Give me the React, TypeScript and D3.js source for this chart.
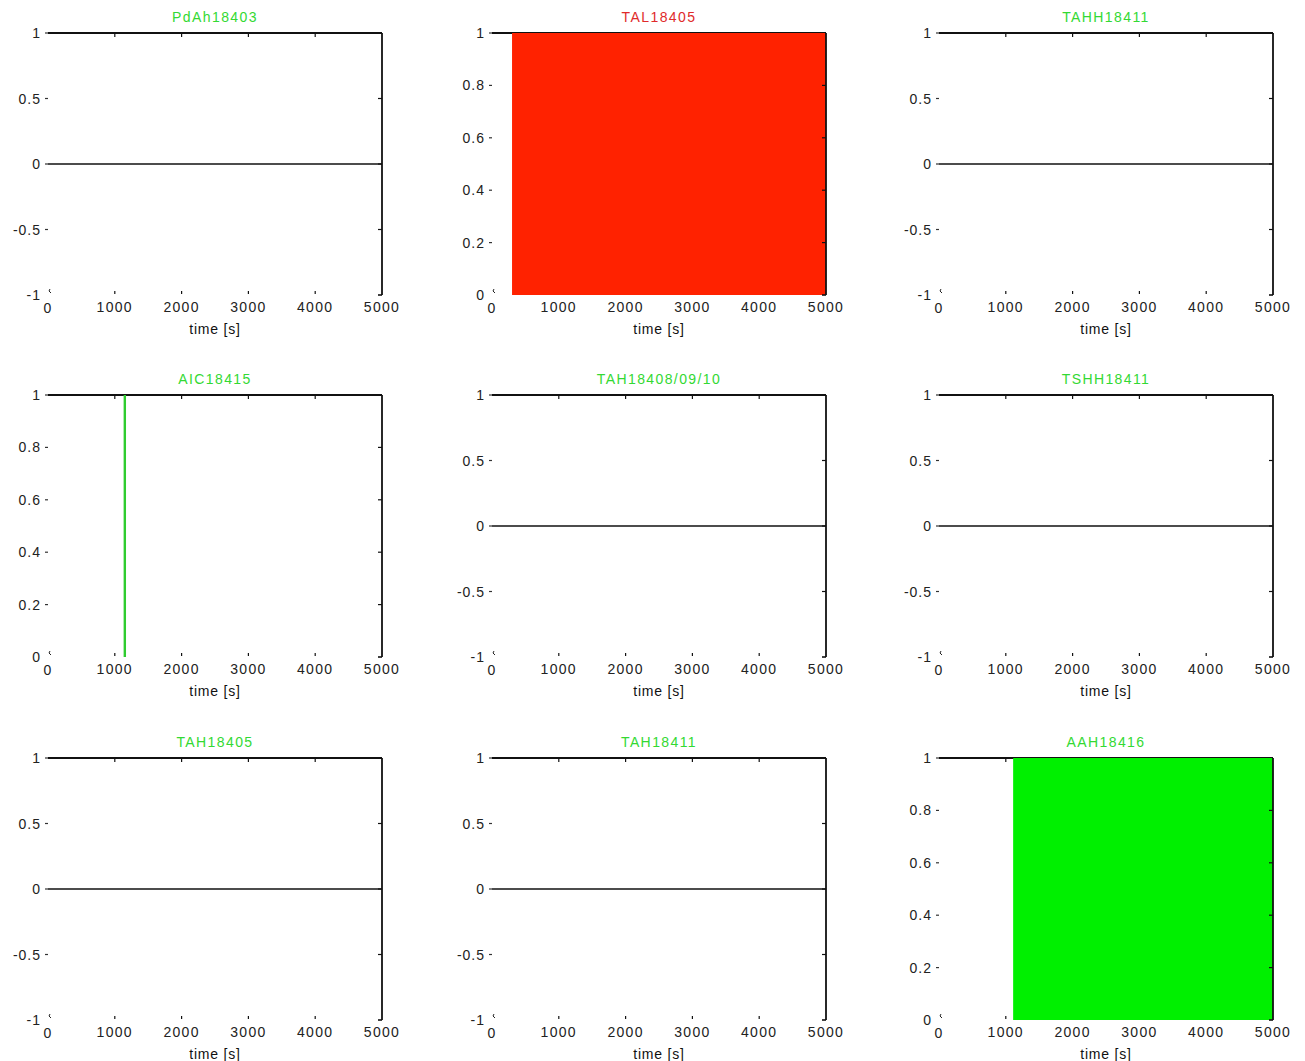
import * as d3 from 'd3'

// grid of the 9 alarm panels, row by row
const TITLES = [
  'PdAh18403', 'TAL18405', 'TAHH18411',
  'AIC18415', 'TAH18408/09/10', 'TSHH18411',
  'TAH18405', 'TAH18411', 'AAH18416'
]
const TITLE_COLORS = [
  '#33d933', '#e02a2a', '#33d933',
  '#33d933', '#33d933', '#33d933',
  '#33d933', '#33d933', '#33d933'
]
// 'sym' = -1..1 axis, 'unit' = 0..1 axis
const RANGES = ['sym', 'unit', 'sym', 'unit', 'sym', 'sym', 'sym', 'sym', 'unit']
// how the signal is drawn
const KINDS = ['line', 'area', 'line', 'spike', 'line', 'line', 'line', 'line', 'area']
const SERIES_T = [
  [0, 5000], [0, 300, 5000], [0, 5000],
  [1150], [0, 5000], [0, 5000],
  [0, 5000], [0, 5000], [0, 1110, 5000]
]
const SERIES_V = [
  [0, 0], [0, 1, 1], [0, 0],
  [1], [0, 0], [0, 0],
  [0, 0], [0, 0], [0, 1, 1]
]
const FILL_COLORS = ['#000', '#ff2200', '#000', '#2fcc2f', '#000', '#000', '#000', '#000', '#00f000']

const TIME_TICKS = [0, 1000, 2000, 3000, 4000, 5000]
const SYM_TICKS = [-1, -0.5, 0, 0.5, 1]
const UNIT_TICKS = [0, 0.2, 0.4, 0.6, 0.8, 1]

const COL_X = [48, 492, 939]
const ROW_Y = [33, 395, 758]
const PANEL_W = 334
const PANEL_H = 262

const FONT = 'Liberation Sans, Arial, sans-serif'

function Panel({ i }: { i: number }) {
  const x0 = COL_X[i % 3]
  const y0 = ROW_Y[Math.floor(i / 3)]
  const x = d3.scaleLinear().domain([0, 5000]).range([x0, x0 + PANEL_W])
  const sym = RANGES[i] === 'sym'
  const y = d3.scaleLinear().domain(sym ? [-1, 1] : [0, 1]).range([y0 + PANEL_H, y0])
  const yTicks = sym ? SYM_TICKS : UNIT_TICKS
  const pts = SERIES_T[i].map((t, k) => [t, SERIES_V[i][k]] as [number, number])
  const x1 = x(5000)
  const yb = y0 + PANEL_H

  let mark = null
  if (KINDS[i] === 'line') {
    const line = d3.line<[number, number]>().x(d => x(d[0])).y(d => y(d[1]))
    mark = <path d={line(pts) || ''} fill="none" stroke="#111" strokeWidth={1.6} />
  } else if (KINDS[i] === 'area') {
    const area = d3.area<[number, number]>()
      .x(d => x(d[0]))
      .y0(y(0))
      .y1(d => y(d[1]))
      .curve(d3.curveStepAfter)
    mark = <path d={area(pts) || ''} fill={FILL_COLORS[i]} />
  } else {
    mark = pts.map((p, k) => (
      <line key={k} x1={x(p[0])} x2={x(p[0])} y1={y(0)} y2={y(p[1])}
        stroke={FILL_COLORS[i]} strokeWidth={2.4} />
    ))
  }

  return (
    <g fontFamily={FONT}>
      <text x={(x0 + x1) / 2} y={y0 - 11} textAnchor="middle" fontSize={14}
        letterSpacing={1.4} fill={TITLE_COLORS[i]}>{TITLES[i]}</text>

      {/* top border */}
      <line x1={x0} x2={x1} y1={y0} y2={y0} stroke="#111" strokeWidth={1.8} />
      {TIME_TICKS.slice(1, -1).map(t => (
        <line key={'tt' + t} x1={x(t)} x2={x(t)} y1={y0} y2={y0 + 4} stroke="#111" strokeWidth={1.2} />
      ))}
      {TIME_TICKS.slice(1, -1).map(t => (
        <line key={'bt' + t} x1={x(t)} x2={x(t)} y1={yb - 4} y2={yb - 1} stroke="#111" strokeWidth={1.2} />
      ))}
      <path d={`M${x0 + 2},${yb - 6} l-1,2 l2,2`} fill="none" stroke="#222" strokeWidth={1} />

      {mark}

      {/* right border */}
      <line x1={x1} x2={x1} y1={y0} y2={yb} stroke="#111" strokeWidth={1.8} />
      <line x1={x1} x2={x1 - 4} y1={yb} y2={yb} stroke="#111" strokeWidth={1.6} />
      {yTicks.slice(1, -1).map(v => (
        <line key={'rt' + v} x1={x1} x2={x1 - 4} y1={y(v)} y2={y(v)} stroke="#111" strokeWidth={1.2} />
      ))}

      {/* y labels + small outer ticks */}
      {yTicks.map(v => (
        <g key={'yl' + v}>
          <text x={x0 - 7} y={y(v) + 5} textAnchor="end" fontSize={14} letterSpacing={1} fill="#222">
            {String(v)}
          </text>
          {v !== yTicks[0] && (
            <line x1={x0 - 3} x2={x0} y1={y(v)} y2={y(v)} stroke="#333" strokeWidth={1.2} />
          )}
        </g>
      ))}

      {/* x labels */}
      {TIME_TICKS.map(t => (
        <text key={'xl' + t} x={x(t)} y={yb + (t === 0 ? 18 : 17)} textAnchor="middle"
          fontSize={14} letterSpacing={1.3} fill="#222">{t}</text>
      ))}
      <text x={(x0 + x1) / 2} y={yb + 39} textAnchor="middle" fontSize={14}
        letterSpacing={0.8} fill="#111">time [s]</text>
    </g>
  )
}

export default function App() {
  return (
    <svg width={1305} height={1061} style={{ position: 'absolute', left: 0, top: 0, background: '#fff' }}>
      <rect width={1305} height={1061} fill="#fff" />
      {TITLES.map((_, i) => <Panel key={i} i={i} />)}
    </svg>
  )
}
